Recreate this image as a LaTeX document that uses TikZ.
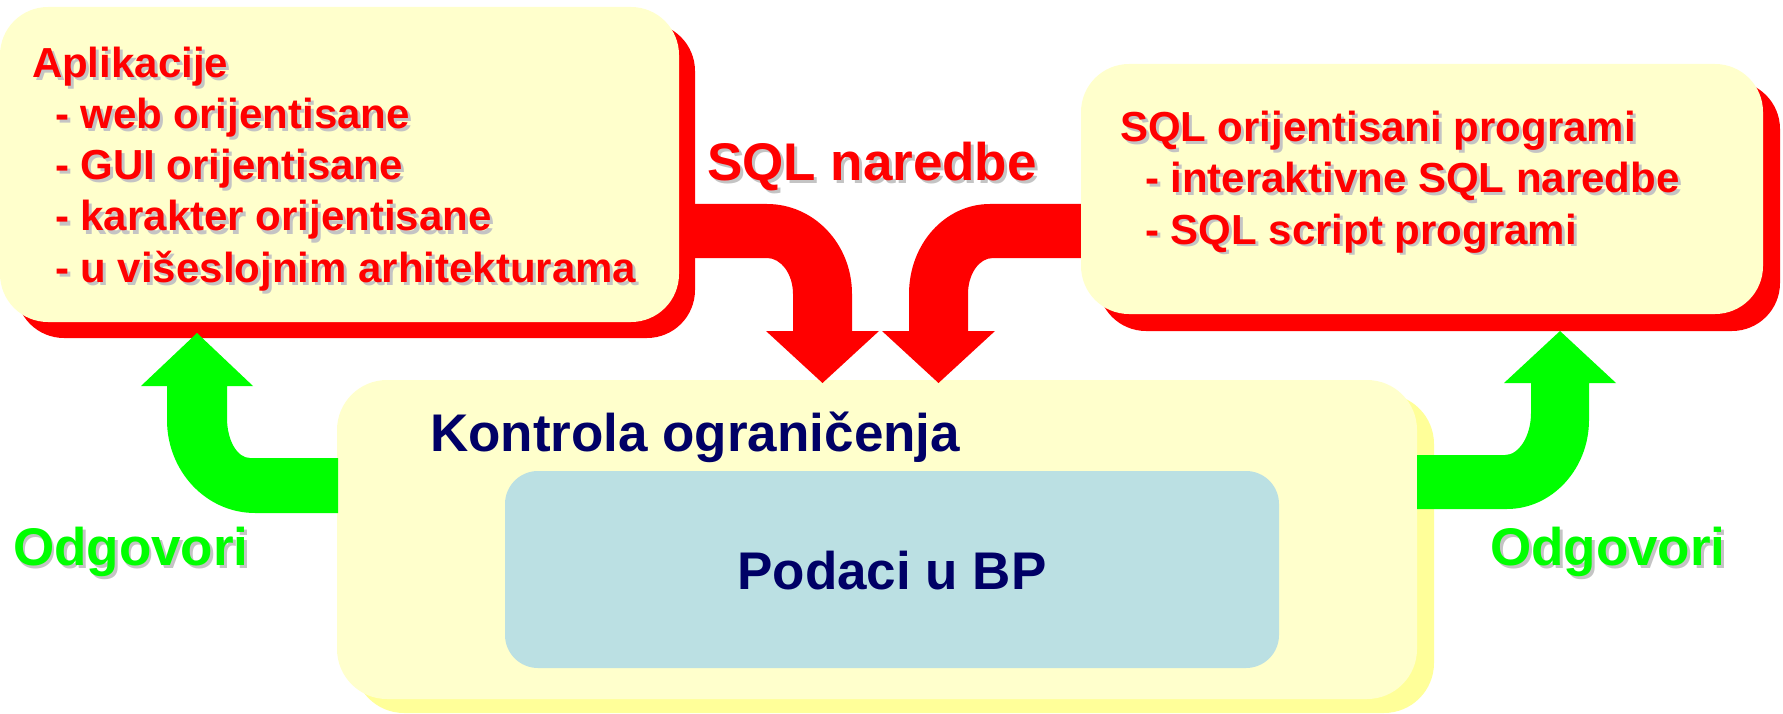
\documentclass[tikz,border=0pt]{standalone}
\usepackage{fontspec}
\setmainfont{Liberation Sans}
\definecolor{boxyellow}{HTML}{FFFFCC}
\definecolor{shyellow}{HTML}{FFFF99}
\definecolor{dbblue}{HTML}{BBE0E3}
\definecolor{navy}{HTML}{000066}
\definecolor{tred}{HTML}{FF0000}
\definecolor{tgreen}{HTML}{00FF00}
\definecolor{tshadow}{HTML}{C4C4C4}
\tikzset{
  panel/.style={draw=none, rounded corners=48pt, inner sep=0pt, outer sep=0pt, anchor=north west},
  txt/.style={inner sep=0pt, outer sep=0pt, anchor=base west, font=\bfseries\fontsize{42}{51}\selectfont},
  big/.style={font=\bfseries\fontsize{53}{60}\selectfont},
  blockarrow/.style={draw=none}
}
\newcommand{\shtext}[5]{%
  \node[txt,#4,text=tshadow,xshift=3pt,yshift=-3pt] (#1-sh) at #2 {#5};
  \node[txt,#4,text=#3] (#1) at #2 {#5};
}
\begin{document}
\begin{tikzpicture}[x=1pt,y=-1pt]
\useasboundingbox (0,0) rectangle (1783,714);
% bottom box
\node[panel, rounded corners=50pt, fill=shyellow, minimum width=1080pt, minimum height=319pt] (ctrlsh) at (354,394) {};
\node[panel, rounded corners=50pt, fill=boxyellow, minimum width=1080pt, minimum height=319pt] (ctrl) at (337,380) {};
\node[panel, rounded corners=33pt, fill=dbblue, minimum width=774pt, minimum height=197pt] (data) at (505,471) {};
% red arrows
\fill[tred, blockarrow] (690,204) -- (767,204) .. controls (814,204) and (852,244) .. (852,294)
  -- (852,331) -- (879,331) -- (822.5,383) -- (766,331) -- (793,331) -- (793,294)
  .. controls (793,274) and (781,258) .. (767,258) -- (690,258) -- cycle;
\fill[tred, blockarrow] (1090,204) -- (990,204) .. controls (945,204) and (909,244) .. (909,294)
  -- (909,331) -- (882,331) -- (938.5,383) -- (995,331) -- (968,331) -- (968,294)
  .. controls (968,274) and (979,258) .. (993,258) -- (1090,258) -- cycle;
% left box
\node[panel, fill=tred, minimum width=679pt, minimum height=315pt] (appsh) at (16,23) {};
\node[panel, fill=boxyellow, minimum width=679pt, minimum height=315pt] (app) at (0,7) {};
% right box
\node[panel, fill=tred, minimum width=682pt, minimum height=250pt] (sqlsh) at (1098,81) {};
\node[panel, fill=boxyellow, minimum width=682pt, minimum height=250pt] (sql) at (1081,64) {};
% green arrows
\fill[tgreen, blockarrow] (338,458) -- (250,458) .. controls (237,458) and (227,440) .. (227,418)
  -- (227,386) -- (253,386) -- (197,333) -- (141,386) -- (167,386) -- (167,420)
  .. controls (167,471) and (206,513) .. (255,513) -- (338,513) -- cycle;
\fill[tgreen, blockarrow] (1417,455) -- (1505,455) .. controls (1519,455) and (1531,436) .. (1531,413)
  -- (1531,383) -- (1504,383) -- (1560,331) -- (1616,383) -- (1589,383) -- (1589,420)
  .. controls (1589,469) and (1552,509) .. (1507,509) -- (1417,509) -- cycle;
% texts in left box
\shtext{a1}{(32,78)}{tred}{}{Aplikacije}
\shtext{a2}{(55,129)}{tred}{}{- web orijentisane}
\shtext{a3}{(55,180)}{tred}{}{- GUI orijentisane}
\shtext{a4}{(55,231)}{tred}{}{- karakter orijentisane}
\shtext{a5}{(55,282)}{tred}{}{- u višeslojnim arhitekturama}
% texts in right box
\shtext{s1}{(1120,142)}{tred}{}{SQL orijentisani programi}
\shtext{s2}{(1145,193)}{tred}{}{- interaktivne SQL naredbe}
\shtext{s3}{(1145,244)}{tred}{}{- SQL script programi}
% arrow labels
\shtext{naredbe}{(707,181)}{tred}{big}{SQL naredbe}
\shtext{odgL}{(13,565)}{tgreen}{big}{Odgovori}
\shtext{odgR}{(1490,565)}{tgreen}{big}{Odgovori}
% bottom box texts
\node[txt, big, text=navy] (kontrola) at (430,451) {Kontrola ograničenja};
\node[txt, big, anchor=base, text=navy] (podaci) at (892,589) {Podaci u BP};
\end{tikzpicture}
\end{document}
